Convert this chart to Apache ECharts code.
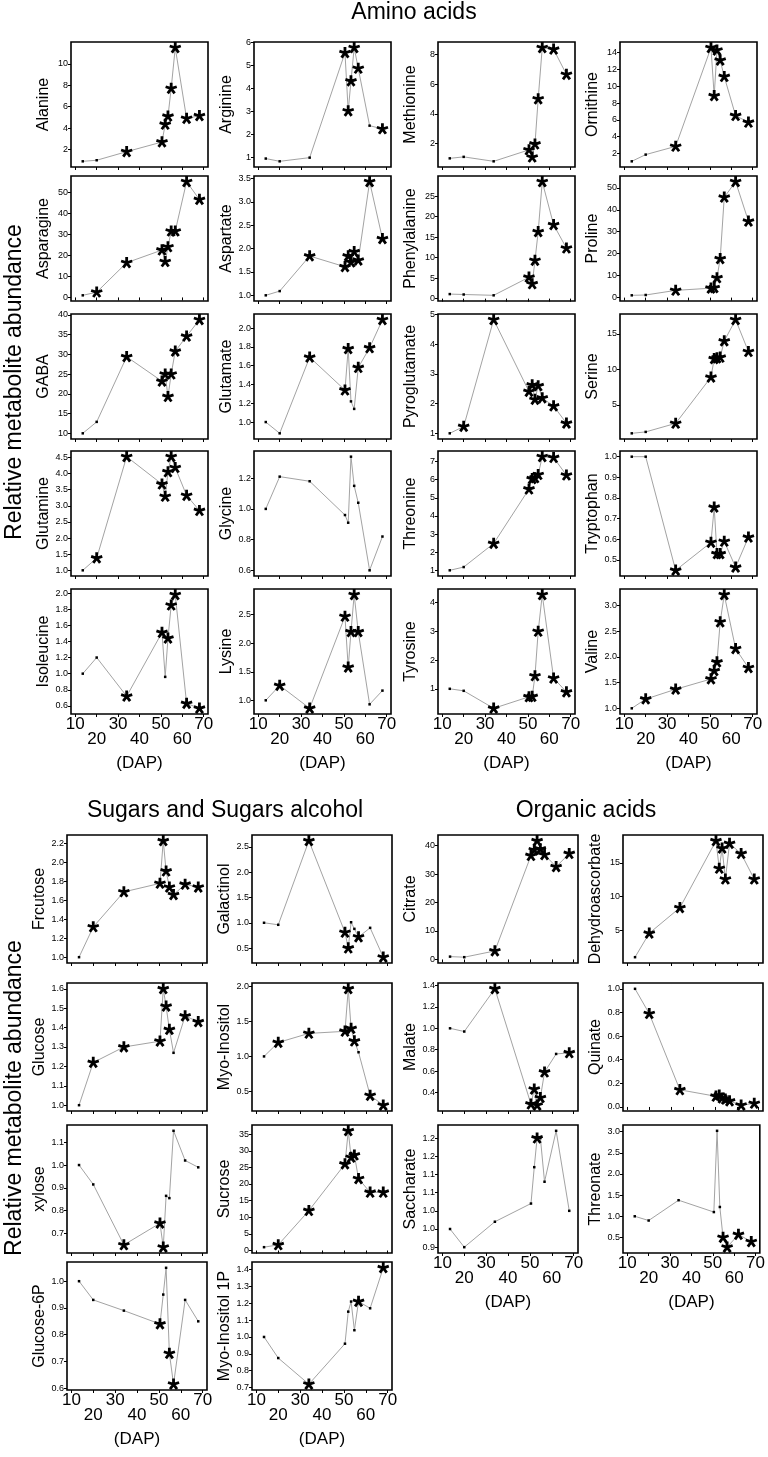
<!DOCTYPE html>
<html><head><meta charset="utf-8">
<script src="https://cdn.jsdelivr.net/npm/echarts@6/dist/echarts.min.js"></script>
<style>html,body{margin:0;padding:0;background:#fff}#c{width:768px;height:1457px}</style>
</head><body><div id="c"></div>
<script>
// ---------- DATA ----------
const DAP = [13.5, 20, 34, 50.5, 52, 53.3, 54.8, 56.7, 62, 68];
const xTicks = [10, 20, 30, 40, 50, 60, 70];
const xLabelsUpper = [10, 30, 50, 70];
const xLabelsLower = [20, 40, 60];

const alanine = [0.9, 1.0, 1.8, 2.7, 4.35, 5.1, 7.7, 11.5, 4.9, 5.15];
const alanineSig = [0,0,1,1,1,1,1,1,1,1];
const alanineTicks = [2,4,6,8,10];
const arginine = [0.96, 0.84, 1.0, 5.56, 3.03, 4.33, 5.78, 4.88, 2.39, 2.25];
const arginineSig = [0,0,0,1,1,1,1,1,0,1];
const arginineTicks = [1,2,3,4,5,6];
const methionine = [1.0, 1.1, 0.8, 1.57, 1.08, 1.96, 5.0, 8.45, 8.34, 6.65];
const methionineSig = [0,0,0,1,1,1,1,1,1,1];
const methionineTicks = [2,4,6,8];
const ornithine = [1.05, 1.85, 2.83, 14.6, 8.86, 14.3, 13.1, 11.15, 6.5, 5.7];
const ornithineSig = [0,0,1,1,1,1,1,1,1,1];
const ornithineTicks = [2,4,6,8,10,12,14];

const asparagine = [1.0, 2.5, 16.5, 22.5, 17, 24, 31.5, 31.5, 55, 46.5];
const asparagineSig = [0,1,1,1,1,1,1,1,1,1];
const asparagineTicks = [0,10,20,30,40,50];
const aspartate = [1.0, 1.09, 1.84, 1.61, 1.84, 1.71, 1.93, 1.75, 3.43, 2.21];
const aspartateSig = [0,0,1,1,1,1,1,1,1,1];
const aspartateTicks = [1.0,1.5,2.0,2.5,3.0,3.5];
const phenylalanine = [1.1, 1.0, 0.8, 5.2, 3.6, 9.3, 16.3, 28.5, 18, 12.3];
const phenylalanineSig = [0,0,0,1,1,1,1,1,1,1];
const phenylalanineTicks = [0,5,10,15,20,25];
const proline = [1.05, 1.2, 3.3, 4.3, 4.5, 9.0, 17.7, 45.7, 52.8, 34.8];
const prolineSig = [0,0,1,1,1,1,1,1,1,1];
const prolineTicks = [0,10,20,30,40,50];

const gaba = [10, 12.9, 29.4, 23.2, 25, 19.3, 25, 30.8, 34.6, 38.8];
const gabaSig = [0,0,1,1,1,1,1,1,1,1];
const gabaTicks = [10,15,20,25,30,35,40];
const glutamate = [1.0, 0.88, 1.69, 1.34, 1.78, 1.22, 1.14, 1.58, 1.79, 2.09];
const glutamateSig = [0,0,1,1,1,0,0,1,1,1];
const glutamateTicks = [1.0,1.2,1.4,1.6,1.8,2.0];
const pyroglutamate = [1.0, 1.23, 4.83, 2.41, 2.63, 2.14, 2.6, 2.19, 1.92, 1.34];
const pyroglutamateSig = [0,1,1,1,1,1,1,1,1,1];
const pyroglutamateTicks = [1,2,3,4,5];
const serine = [1.0, 1.2, 2.4, 8.9, 11.5, 11.6, 11.7, 14, 17, 12.5];
const serineSig = [0,0,1,1,1,1,1,1,1,1];
const serineTicks = [5,10,15];

const glutamine = [1.0, 1.38, 4.52, 3.67, 3.29, 4.05, 4.52, 4.18, 3.32, 2.85];
const glutamineSig = [0,1,1,1,1,1,1,1,1,1];
const glutamineTicks = [1.0,1.5,2.0,2.5,3.0,3.5,4.0,4.5];
const glycine = [1.0, 1.21, 1.18, 0.96, 0.91, 1.34, 1.15, 1.04, 0.6, 0.82];
const glycineSig = [0,0,0,0,0,0,0,0,0,0];
const glycineTicks = [0.6,0.8,1.0,1.2];
const threonine = [1.0, 1.18, 2.48, 5.48, 6.05, 6.1, 6.28, 7.27, 7.22, 6.25];
const threonineSig = [0,0,1,1,1,1,1,1,1,1];
const threonineTicks = [1,2,3,4,5,6,7];
const tryptophan = [1.0, 1.0, 0.45, 0.585, 0.755, 0.53, 0.53, 0.59, 0.465, 0.61];
const tryptophanSig = [0,0,1,1,1,1,1,1,1,1];
const tryptophanTicks = [0.5,0.6,0.7,0.8,0.9,1.0];

const isoleucine = [1.0, 1.2, 0.72, 1.51, 0.96, 1.44, 1.85, 1.98, 0.63, 0.57];
const isoleucineSig = [0,0,1,1,0,1,1,1,1,1];
const isoleucineTicks = [0.6,0.8,1.0,1.2,1.4,1.6,1.8,2.0];
const lysine = [1.0, 1.26, 0.86, 2.47, 1.58, 2.2, 2.85, 2.2, 0.93, 1.17];
const lysineSig = [0,1,1,1,1,1,1,1,0,0];
const lysineTicks = [1.0,1.5,2.0,2.5];
const tyrosine = [1.0, 0.93, 0.32, 0.72, 0.73, 1.45, 3.0, 4.28, 1.37, 0.89];
const tyrosineSig = [0,0,1,1,1,1,1,1,1,1];
const tyrosineTicks = [1,2,3,4];
const valine = [1.0, 1.18, 1.37, 1.57, 1.73, 1.9, 2.68, 3.21, 2.16, 1.79];
const valineSig = [0,1,1,1,1,1,1,1,1,1];
const valineTicks = [1.0,1.5,2.0,2.5,3.0];

const fructose = [1.0, 1.32, 1.69, 1.78, 2.23, 1.91, 1.74, 1.66, 1.77, 1.74];
const fructoseSig = [0,1,1,1,1,1,1,1,1,1];
const fructoseTicks = [1.0,1.2,1.4,1.6,1.8,2.0,2.2];
const glucose = [1.0, 1.22, 1.3, 1.33, 1.6, 1.51, 1.39, 1.27, 1.46, 1.43];
const glucoseSig = [0,1,1,1,1,1,1,0,1,1];
const glucoseTicks = [1.0,1.1,1.2,1.3,1.4,1.5,1.6];
const xylose = [1.0, 0.915, 0.65, 0.745, 0.64, 0.865, 0.855, 1.15, 1.02, 0.99];
const xyloseSig = [0,0,1,1,1,0,0,0,0,0];
const xyloseTicks = [0.7,0.8,0.9,1.0,1.1];
const glucose6p = [1.0, 0.93, 0.89, 0.84, 0.95, 1.05, 0.73, 0.615, 0.93, 0.85];
const glucose6pSig = [0,0,0,1,0,0,1,1,0,0];
const glucose6pTicks = [0.6,0.7,0.8,0.9,1.0];

const galactinol = [1.0, 0.96, 2.62, 0.81, 0.5, 1.01, 0.88, 0.72, 0.9, 0.32];
const galactinolSig = [0,0,1,1,1,0,0,1,0,1];
const galactinolTicks = [0.5,1.0,1.5,2.0,2.5];
const myoInositol = [1.0, 1.2, 1.33, 1.36, 1.97, 1.4, 1.22, 1.06, 0.44, 0.3];
const myoInositolSig = [0,1,1,1,1,1,1,0,1,1];
const myoInositolTicks = [0.5,1.0,1.5,2.0];
const sucrose = [1.0, 1.7, 12, 26, 36, 28, 28.7, 21.6, 17.5, 17.5];
const sucroseSig = [0,1,1,1,1,1,1,1,1,1];
const sucroseTicks = [0,5,10,15,20,25,30,35];
const myoInositol1p = [1.0, 0.875, 0.72, 0.96, 1.15, 1.21, 1.04, 1.21, 1.17, 1.41];
const myoInositol1pSig = [0,0,1,0,0,0,0,1,0,1];
const myoInositol1pTicks = [0.7,0.8,0.9,1.0,1.1,1.2,1.3,1.4];

const citrate = [1.0, 0.8, 3.0, 36.5, 38.5, 41.7, 38.8, 36.8, 32.6, 37.2];
const citrateSig = [0,0,1,1,1,1,1,1,1,1];
const citrateTicks = [0,10,20,30,40];
const malate = [1.0, 0.97, 1.37, 0.29, 0.43, 0.28, 0.35, 0.59, 0.76, 0.77];
const malateSig = [0,0,1,1,1,1,1,1,0,1];
const malateTicks = [0.4,0.6,0.8,1.0,1.2,1.4];
const saccharate = [0.95, 0.9, 0.97, 1.02, 1.12, 1.2, 1.2, 1.08, 1.22, 1.0];
const saccharateSig = [0,0,0,0,0,1,0,0,0,0];
const saccharateTicks = [0.9,0.95,1.0,1.05,1.1,1.15,1.2];
const saccharateTickLabels = ['0.9','1.0','1.0','1.1','1.1','1.2','1.2'];

const dehydroascorbate = [1.0, 4.56, 8.35, 18.3, 14.2, 17.2, 12.6, 17.9, 16.4, 12.6];
const dehydroascorbateSig = [0,1,1,1,1,1,1,1,1,1];
const dehydroascorbateTicks = [5,10,15];
const quinate = [1.0, 0.79, 0.145, 0.09, 0.1, 0.075, 0.065, 0.05, 0.015, 0.03];
const quinateSig = [0,1,1,1,1,1,1,1,1,1];
const quinateTicks = [0.0,0.2,0.4,0.6,0.8,1.0];
const threonate = [1.0, 0.9, 1.38, 1.1, 3.02, 1.22, 0.5, 0.27, 0.57, 0.4];
const threonateSig = [0,0,0,0,0,0,1,1,1,1];
const threonateTicks = [0.5,1.0,1.5,2.0,2.5,3.0];

// ---------- LAYOUT / STYLE ----------
const FONT = "'Liberation Sans', Arial, Helvetica, sans-serif";
const TOP = {cols:[71,254,438,620], w:137, rows:[42,176,314,451,589], h:125};
const BOT = {cols:[67,252,438,623], w:140, rows:[835,983,1125,1262], h:128};

const panels = [
  {n:'Alanine', v:alanine, s:alanineSig, t:alanineTicks, d:0, L:TOP, c:0, r:0},
  {n:'Arginine', v:arginine, s:arginineSig, t:arginineTicks, d:0, L:TOP, c:1, r:0},
  {n:'Methionine', v:methionine, s:methionineSig, t:methionineTicks, d:0, L:TOP, c:2, r:0},
  {n:'Ornithine', v:ornithine, s:ornithineSig, t:ornithineTicks, d:0, L:TOP, c:3, r:0},
  {n:'Asparagine', v:asparagine, s:asparagineSig, t:asparagineTicks, d:0, L:TOP, c:0, r:1},
  {n:'Aspartate', v:aspartate, s:aspartateSig, t:aspartateTicks, d:1, L:TOP, c:1, r:1},
  {n:'Phenylalanine', v:phenylalanine, s:phenylalanineSig, t:phenylalanineTicks, d:0, L:TOP, c:2, r:1},
  {n:'Proline', v:proline, s:prolineSig, t:prolineTicks, d:0, L:TOP, c:3, r:1},
  {n:'GABA', v:gaba, s:gabaSig, t:gabaTicks, d:0, L:TOP, c:0, r:2},
  {n:'Glutamate', v:glutamate, s:glutamateSig, t:glutamateTicks, d:1, L:TOP, c:1, r:2},
  {n:'Pyroglutamate', v:pyroglutamate, s:pyroglutamateSig, t:pyroglutamateTicks, d:0, L:TOP, c:2, r:2},
  {n:'Serine', v:serine, s:serineSig, t:serineTicks, d:0, L:TOP, c:3, r:2},
  {n:'Glutamine', v:glutamine, s:glutamineSig, t:glutamineTicks, d:1, L:TOP, c:0, r:3},
  {n:'Glycine', v:glycine, s:glycineSig, t:glycineTicks, d:1, L:TOP, c:1, r:3},
  {n:'Threonine', v:threonine, s:threonineSig, t:threonineTicks, d:0, L:TOP, c:2, r:3},
  {n:'Tryptophan', v:tryptophan, s:tryptophanSig, t:tryptophanTicks, d:1, L:TOP, c:3, r:3},
  {n:'Isoleucine', v:isoleucine, s:isoleucineSig, t:isoleucineTicks, d:1, L:TOP, c:0, r:4, x:1},
  {n:'Lysine', v:lysine, s:lysineSig, t:lysineTicks, d:1, L:TOP, c:1, r:4, x:1},
  {n:'Tyrosine', v:tyrosine, s:tyrosineSig, t:tyrosineTicks, d:0, L:TOP, c:2, r:4, x:1},
  {n:'Valine', v:valine, s:valineSig, t:valineTicks, d:1, L:TOP, c:3, r:4, x:1},
  {n:'Frcutose', v:fructose, s:fructoseSig, t:fructoseTicks, d:1, L:BOT, c:0, r:0},
  {n:'Glucose', v:glucose, s:glucoseSig, t:glucoseTicks, d:1, L:BOT, c:0, r:1},
  {n:'xylose', v:xylose, s:xyloseSig, t:xyloseTicks, d:1, L:BOT, c:0, r:2},
  {n:'Glucose-6P', v:glucose6p, s:glucose6pSig, t:glucose6pTicks, d:1, L:BOT, c:0, r:3, x:1},
  {n:'Galactinol', v:galactinol, s:galactinolSig, t:galactinolTicks, d:1, L:BOT, c:1, r:0},
  {n:'Myo-Inositol', v:myoInositol, s:myoInositolSig, t:myoInositolTicks, d:1, L:BOT, c:1, r:1},
  {n:'Sucrose', v:sucrose, s:sucroseSig, t:sucroseTicks, d:0, L:BOT, c:1, r:2},
  {n:'Myo-Inositol 1P', v:myoInositol1p, s:myoInositol1pSig, t:myoInositol1pTicks, d:1, L:BOT, c:1, r:3, x:1},
  {n:'Citrate', v:citrate, s:citrateSig, t:citrateTicks, d:0, L:BOT, c:2, r:0},
  {n:'Malate', v:malate, s:malateSig, t:malateTicks, d:1, L:BOT, c:2, r:1},
  {n:'Saccharate', v:saccharate, s:saccharateSig, t:saccharateTicks, lab:saccharateTickLabels, L:BOT, c:2, r:2, x:1},
  {n:'Dehydroascorbate', v:dehydroascorbate, s:dehydroascorbateSig, t:dehydroascorbateTicks, d:0, L:BOT, c:3, r:0},
  {n:'Quinate', v:quinate, s:quinateSig, t:quinateTicks, d:1, L:BOT, c:3, r:1},
  {n:'Threonate', v:threonate, s:threonateSig, t:threonateTicks, d:1, L:BOT, c:3, r:2, x:1}
];

// asterisk-like 5-arm symbol
const STAR = (function(){
  let d = '';
  const w = 0.24, b = -0.2;
  for (let k = 0; k < 5; k++) {
    const a = (-90 + 72*k) * Math.PI/180;
    const dx = Math.cos(a), dy = Math.sin(a), px = -dy, py = dx;
    const pts = [[b*dx+px*w, b*dy+py*w],[dx+px*w, dy+py*w],[dx-px*w, dy-py*w],[b*dx-px*w, b*dy-py*w]];
    d += 'M' + pts.map(p => (p[0]*100).toFixed(2)+' '+(p[1]*100).toFixed(2)).join(' L') + ' Z ';
  }
  return 'path://' + d;
})();

const option = {animation:false, backgroundColor:'#fff', grid:[], xAxis:[], yAxis:[], series:[], graphic:[]};

panels.forEach((p, i) => {
  const L = p.L;
  option.grid.push({left:L.cols[p.c], top:L.rows[p.r], width:L.w, height:L.h,
    show:true, borderColor:'#000', borderWidth:1.6, backgroundColor:'rgba(0,0,0,0)', containLabel:false});
  const lo = Math.min(...p.v), hi = Math.max(...p.v), pad = (hi - lo) * 0.05;
  const xi = option.xAxis.length;
  option.xAxis.push({gridIndex:i, type:'value', min:8, max:72,
    axisLine:{show:false}, splitLine:{show:false},
    axisTick:{show:true, customValues:xTicks, length:3, lineStyle:{color:'#000', width:1}},
    axisLabel:{show:!!p.x, customValues:xLabelsUpper, margin:2, fontSize:17, color:'#000', fontFamily:FONT},
    name:p.x ? '(DAP)' : '', nameLocation:'middle', nameGap:41,
    nameTextStyle:{fontSize:17, color:'#000', fontFamily:FONT}});
  if (p.x) {
    option.xAxis.push({gridIndex:i, type:'value', min:8, max:72, position:'bottom', offset:15,
      axisLine:{show:false}, axisTick:{show:false}, splitLine:{show:false},
      axisLabel:{customValues:xLabelsLower, margin:2, fontSize:17, color:'#000', fontFamily:FONT}});
  }
  const fmt = (val) => {
    if (p.lab) {
      let bi = 0, bd = 1e9;
      p.t.forEach((t, k) => { const dd = Math.abs(t - val); if (dd < bd) { bd = dd; bi = k; } });
      return p.lab[bi];
    }
    return Number(val).toFixed(p.d);
  };
  option.yAxis.push({gridIndex:i, type:'value', min:lo - pad, max:hi + pad,
    axisLine:{show:false}, splitLine:{show:false},
    axisTick:{show:true, customValues:p.t, length:3, lineStyle:{color:'#000', width:1}},
    axisLabel:{customValues:p.t, fontSize:9, margin:3, color:'#000', fontFamily:FONT, formatter:fmt},
    name:p.n, nameLocation:'middle', nameGap:19,
    nameTextStyle:{fontSize:16, color:'#000', fontFamily:FONT}});
  option.series.push({type:'line', xAxisIndex:xi, yAxisIndex:i, showSymbol:true, symbolKeepAspect:true,
    silent:true, animation:false,
    lineStyle:{color:'#a3a3a3', width:1}, itemStyle:{color:'#000'},
    data:p.v.map((v, j) => ({value:[DAP[j], v], symbol:p.s[j] ? STAR : 'rect', symbolSize:p.s[j] ? 12 : 2.5}))});
});

const txt = (text, x, y, size, rot) => ({type:'text', x, y, rotation:rot || 0, silent:true,
  style:{text, fill:'#000', font:size + 'px ' + FONT, align:'center', verticalAlign:'middle',
         textAlign:'center', textVerticalAlign:'middle'}});
option.graphic = [
  txt('Amino acids', 414, 13, 23),
  txt('Sugars and Sugars alcohol', 225, 811, 23),
  txt('Organic acids', 586, 811, 23),
  txt('Relative metabolite abundance', 15, 382, 23, Math.PI/2),
  txt('Relative metabolite abundance', 15, 1098, 23, Math.PI/2)
];

const chart = echarts.init(document.getElementById('c'), null, {renderer:'canvas'});
chart.setOption(option);
</script>
</body></html>
